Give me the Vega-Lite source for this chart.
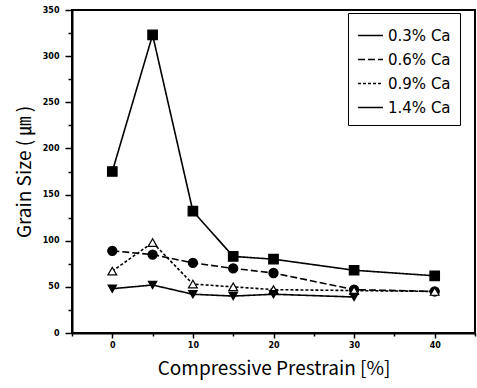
{
  "$schema": "https://vega.github.io/schema/vega-lite/v6.json",
  "width": 403,
  "height": 323,
  "autosize": "none",
  "padding": {"left": 72, "top": 10, "right": 2, "bottom": 55},
  "background": "white",
  "config": {
    "view": {"stroke": "black", "strokeWidth": 2},
    "axis": {"domainColor": "black", "domainWidth": 2, "tickColor": "black", "tickWidth": 1.5, "grid": false, "labelFont": "DejaVu Sans", "labelFontWeight": "bold", "labelFontSize": 8, "labelColor": "black", "titleFont": "Noto Sans CJK KR", "titleFontWeight": "normal", "titleColor": "black", "titleFontSize": 19}
  },
  "data": {"values": [
    {"x": 0, "y": 175, "s": "0.3% Ca"},
    {"x": 5, "y": 323, "s": "0.3% Ca"},
    {"x": 10, "y": 132, "s": "0.3% Ca"},
    {"x": 15, "y": 83, "s": "0.3% Ca"},
    {"x": 20, "y": 80, "s": "0.3% Ca"},
    {"x": 30, "y": 68, "s": "0.3% Ca"},
    {"x": 40, "y": 62, "s": "0.3% Ca"},
    {"x": 0, "y": 89, "s": "0.6% Ca"},
    {"x": 5, "y": 85, "s": "0.6% Ca"},
    {"x": 10, "y": 76, "s": "0.6% Ca"},
    {"x": 15, "y": 70, "s": "0.6% Ca"},
    {"x": 20, "y": 65, "s": "0.6% Ca"},
    {"x": 30, "y": 47, "s": "0.6% Ca"},
    {"x": 40, "y": 45, "s": "0.6% Ca"},
    {"x": 0, "y": 67, "s": "0.9% Ca"},
    {"x": 5, "y": 98, "s": "0.9% Ca"},
    {"x": 10, "y": 53, "s": "0.9% Ca"},
    {"x": 15, "y": 50, "s": "0.9% Ca"},
    {"x": 20, "y": 47, "s": "0.9% Ca"},
    {"x": 30, "y": 46, "s": "0.9% Ca"},
    {"x": 40, "y": 45, "s": "0.9% Ca"},
    {"x": 0, "y": 48, "s": "1.4% Ca"},
    {"x": 5, "y": 52, "s": "1.4% Ca"},
    {"x": 10, "y": 42, "s": "1.4% Ca"},
    {"x": 15, "y": 40, "s": "1.4% Ca"},
    {"x": 20, "y": 42, "s": "1.4% Ca"},
    {"x": 30, "y": 39, "s": "1.4% Ca"}
  ]},
  "resolve": {"axis": {"x": "independent", "y": "independent"}, "legend": {"shape": "independent", "fill": "independent", "size": "independent", "strokeDash": "independent"}},
  "layer": [
    {
      "mark": {"type": "line", "color": "black", "strokeWidth": 1.6},
      "encoding": {
        "x": {"field": "x", "type": "quantitative", "scale": {"domain": [-5, 45], "nice": false}, "axis": {"values": [0, 10, 20, 30, 40], "title": "Compressive Prestrain [%]", "tickSize": 5, "labelPadding": 3, "titlePadding": 10}},
        "y": {"field": "y", "type": "quantitative", "scale": {"domain": [0, 350], "nice": false}, "axis": {"values": [0, 50, 100, 150, 200, 250, 300, 350], "title": "Grain Size ( ㎛ )", "tickSize": 7, "labelPadding": 6, "titlePadding": 8}},
        "detail": {"field": "s"},
        "strokeDash": {"field": "s", "type": "nominal", "scale": {"domain": ["0.3% Ca", "0.6% Ca", "0.9% Ca", "1.4% Ca"], "range": [[1, 0], [7, 3], [3, 2], [1, 0]]},
          "legend": {"title": null, "orient": "none", "legendX": 276, "legendY": 3, "strokeColor": "black", "padding": 9, "rowPadding": 2, "symbolSize": 625, "labelFont": "DejaVu Sans", "labelFontSize": 15, "labelColor": "black", "labelOffset": 4,
            "encode": {
              "legend": {"update": {"strokeWidth": {"value": 2}}},
              "symbols": {"update": {
                "shape": {"value": "stroke"},
                "stroke": {"value": "black"},
                "strokeWidth": {"value": 1.5},
                "opacity": {"value": 1}
              }}}
          }}
      }
    },
    {
      "mark": {"type": "point", "filled": false, "stroke": "black", "strokeWidth": 1.2, "opacity": 1},
      "encoding": {
        "x": {"field": "x", "type": "quantitative", "axis": null},
        "y": {"field": "y", "type": "quantitative", "axis": null},
        "shape": {"field": "s", "type": "nominal", "scale": {"domain": ["0.3% Ca", "0.6% Ca", "0.9% Ca", "1.4% Ca"], "range": ["square", "circle", "triangle-up", "triangle-down"]},
          "legend": {"title": null, "orient": "none", "legendX": 276, "legendY": 3, "padding": 9, "rowPadding": 2, "symbolSize": 625, "labelFont": "DejaVu Sans", "labelFontSize": 15, "labelColor": "black", "labelOpacity": 0, "labelOffset": 4,
            "encode": {
              "symbols": {"update": {
                "size": {"signal": "datum.value == '1.4% Ca' ? 80 : datum.value == '0.9% Ca' ? 50 : datum.value == '0.6% Ca' ? 22 : 30"},
                "fill": {"signal": "datum.value == '0.9% Ca' ? 'white' : 'black'"},
                "stroke": {"value": "black"},
                "strokeWidth": {"value": 1},
                "opacity": {"value": 1}
              }}}
          }},
        "fill": {"field": "s", "type": "nominal", "scale": {"domain": ["0.3% Ca", "0.6% Ca", "0.9% Ca", "1.4% Ca"], "range": ["black", "black", "white", "black"]}, "legend": null},
        "size": {"field": "s", "type": "nominal", "scale": {"domain": ["0.3% Ca", "0.6% Ca", "0.9% Ca", "1.4% Ca"], "range": [90, 70, 110, 130]}, "legend": null}
      }
    },
    {
      "mark": {"type": "point", "opacity": 0},
      "encoding": {
        "x": {"field": "x", "type": "quantitative", "axis": {"values": [-5, 5, 15, 25, 35, 45], "labels": false, "title": null, "tickSize": 3, "domain": false, "orient": "bottom"}},
        "y": {"field": "y", "type": "quantitative", "axis": {"values": [25, 75, 125, 175, 225, 275, 325], "labels": false, "title": null, "tickSize": 4, "domain": false, "orient": "left"}}
      }
    }
  ]
}
